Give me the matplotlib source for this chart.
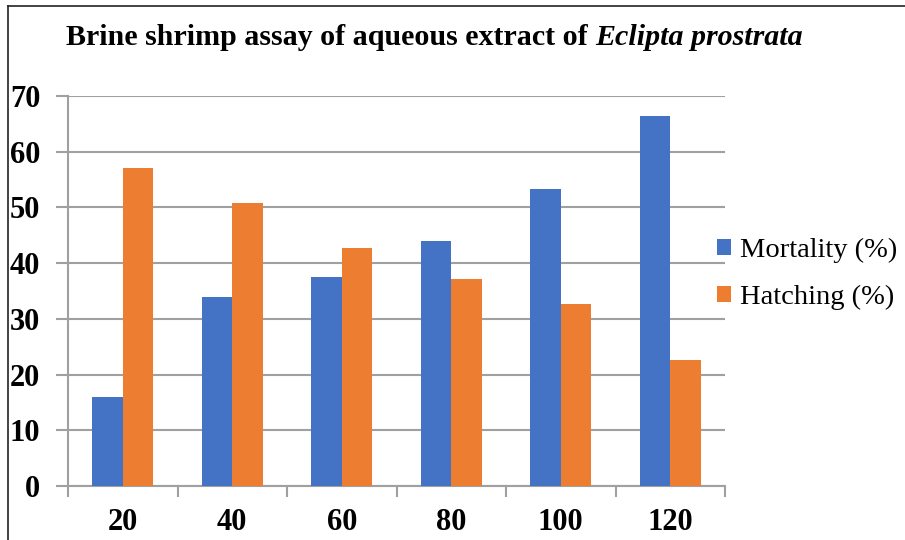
"""Brine shrimp assay bar chart."""
import matplotlib
matplotlib.use("Agg")
import matplotlib.pyplot as plt
from matplotlib.lines import Line2D
import numpy as np

plt.rcParams['font.family'] = ['Liberation Serif', 'DejaVu Serif']

# Data
concentrations = ['20', '40', '60', '80', '100', '120']
mortality = [16, 34, 37.5, 44, 53.3, 66.5]
hatching = [57, 50.8, 42.7, 37.1, 32.6, 22.6]
series_names = ['Mortality (%)', 'Hatching (%)']
colors = ['#4472C4', '#ED7D31']
grid_col = '#a0a0a0'

W, H = 905, 540
fig = plt.figure(figsize=(W / 100, H / 100), dpi=100)
ax = fig.add_axes((68 / W, 1 - 486 / H, (725 - 68) / W, (486 - 96) / H))

x = np.arange(len(concentrations))
w = 0.28
b1 = ax.bar(x - w / 2, mortality, w, color=colors[0], label=series_names[0], zorder=3)
b2 = ax.bar(x + w / 2, hatching, w, color=colors[1], label=series_names[1], zorder=3)

ax.set_xlim(-0.5, len(concentrations) - 0.5)
ax.set_ylim(0, 70)
ax.set_yticks(range(0, 71, 10))
ax.yaxis.grid(True, color=grid_col, linewidth=1.5, zorder=0)
ax.set_axisbelow(True)

ax.set_xticks(x, labels=concentrations)
ax.set_xticks(np.arange(len(concentrations) + 1) - 0.5, minor=True)
ax.tick_params(axis='x', which='major', length=0, pad=16)
ax.tick_params(axis='x', which='minor', length=8, width=1.5, color=grid_col,
               direction='out')
ax.tick_params(axis='y', length=9, width=1.5, color=grid_col, pad=11)
for lab in ax.get_xticklabels() + ax.get_yticklabels():
    lab.set_fontsize(22)
    lab.set_fontweight('bold')

for s in ['top', 'right']:
    ax.spines[s].set_visible(False)
for s in ['left', 'bottom']:
    ax.spines[s].set_color(grid_col)
    ax.spines[s].set_linewidth(1.5)

fig.legend(handles=[b1, b2], loc='center left',
           bbox_to_anchor=(717 / W, 1 - 274 / H), frameon=False,
           fontsize=20.5, borderpad=0, borderaxespad=0,
           handlelength=0.5, handleheight=0.5, handletextpad=0.3,
           labelspacing=0.75)

# Title: roman bold part + bold italic species name
t1 = fig.text(66 / W, 1 - 45 / H, 'Brine shrimp assay of aqueous extract of ',
              fontsize=21.6, fontweight='bold', ha='left', va='baseline')
fig.canvas.draw()
bb = t1.get_window_extent()
fig.text(bb.x1 / W, 1 - 45 / H, 'Eclipta prostrata', fontsize=21.6,
         fontweight='bold', style='italic', ha='left', va='baseline')

# Border around chart area
fig.add_artist(Line2D([8 / W, 8 / W], [0, 1 - 6 / H], color='#222222',
                      linewidth=1.2, transform=fig.transFigure))
fig.add_artist(Line2D([8 / W, 1], [1 - 6 / H, 1 - 6 / H], color='#222222',
                      linewidth=1.2, transform=fig.transFigure))

fig.savefig('out.png', dpi=100)
